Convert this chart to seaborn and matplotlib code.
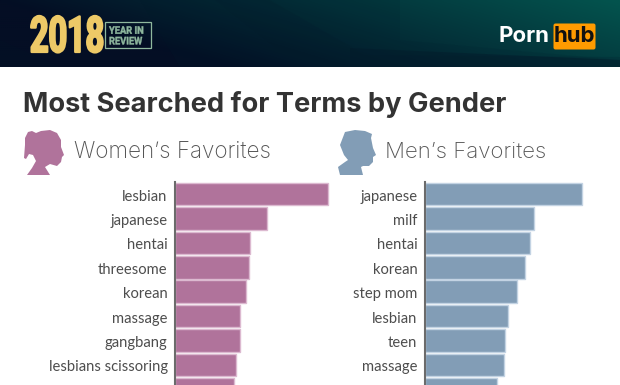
import numpy as np
import pandas as pd
import seaborn as sns
import matplotlib.pyplot as plt
from matplotlib.patches import Polygon, Rectangle, FancyBboxPatch
from matplotlib.patheffects import AbstractPathEffect
from matplotlib.transforms import Affine2D, ScaledTranslation

# terms, the ninth labels are cut off by the image edge
women_terms = ['lesbian', 'japanese', 'hentai', 'threesome', 'korean',
               'massage', 'gangbang', 'lesbians scissoring', ' ']
women_values = [100, 60.2, 48.7, 48.3, 46.3, 42.4, 42.2, 39.8, 38.4]
men_terms = ['japanese', 'milf', 'hentai', 'korean', 'step mom',
             'lesbian', 'teen', 'massage', ' ']
men_values = [100, 69.6, 67.2, 63.6, 58.5, 53.2, 51.2, 50.6, 45.9]

W, H = 620, 385
PINK = '#b0739b'
BLUE = '#829db6'
SAGE = '#8fb89e'


# stretches text around a pixel anchor, no condensed font is installed
class Stretch(AbstractPathEffect):
    def __init__(self, x0, y0, sx, sy, fat=0):
        super().__init__()
        self.x0 = x0
        self.y0 = H - y0
        self.sx = sx
        self.sy = sy
        self.fat = fat

    def draw_path(self, renderer, gc, tpath, affine, rgbFace=None):
        stretch = (Affine2D().translate(-self.x0, -self.y0).scale(self.sx, self.sy)
                   .translate(self.x0, self.y0))
        gc0 = renderer.new_gc()
        gc0.copy_properties(gc)
        if self.fat:
            gc0.set_linewidth(self.fat)
            gc0.set_foreground(rgbFace)
        renderer.draw_path(gc0, tpath, affine + stretch, rgbFace)
        gc0.restore()


sns.set_theme(style='white')
plt.rcParams['font.family'] = ['Lato', 'DejaVu Sans']

fig = plt.figure(figsize=(W / 100, H / 100), dpi=100, facecolor='white')

# overlay in pixel coordinates for the header and headings
bg = fig.add_axes([0, 0, 1, 1])
bg.set_xlim(0, W)
bg.set_ylim(H, 0)
bg.axis('off')

# header background: dark navy on the left to teal on the top right
gx, gy = np.meshgrid(np.linspace(0, 1, 310), np.linspace(0, 1, 34))
t = np.clip(gx * 1.0 - 0.35 * gy, 0, 1)[..., None]
left_col = np.array([4, 14, 36]) / 255
right_col = np.array([3, 84, 78]) / 255
bg.imshow(left_col + (right_col - left_col) * t, extent=(0, W, 67, 0),
          aspect='auto', interpolation='bilinear', zorder=0)
bg.set_xlim(0, W)
bg.set_ylim(H, 0)
for pts, a in [([(140, 0), (270, 0), (365, 55), (620, 57), (620, 67), (180, 67)], 0.18),
               ([(215, 0), (400, 0), (400, 40), (620, 60), (620, 67), (300, 67)], 0.12),
               ([(350, 48), (620, 60), (620, 67), (350, 67)], 0.45),
               ([(0, 40), (0, 67), (60, 67)], 0.10)]:
    bg.add_patch(Polygon(pts, closed=True, fc='#021a2a', ec='none', alpha=a, zorder=1))

# header logos
bg.text(30, 52, '2018', color='#edc967', fontsize=24, fontweight='bold', family='Roboto',
        va='baseline', ha='left', zorder=3, path_effects=[Stretch(30, 52, 0.97, 1.5, fat=1.6)])
bg.add_patch(Rectangle((105, 21.5), 45.5, 26.5, fc='none', ec=SAGE, lw=0.9, zorder=3))
bg.text(109, 33.8, 'YEAR IN', color=SAGE, fontsize=7.6, fontweight='bold', family='Roboto',
        va='baseline', ha='left', zorder=3, path_effects=[Stretch(109, 33.8, 0.88, 1, fat=0.3)])
bg.text(109, 44.4, 'REVIEW', color=SAGE, fontsize=7.6, fontweight='bold', family='Roboto',
        va='baseline', ha='left', zorder=3, path_effects=[Stretch(109, 44.4, 0.88, 1, fat=0.3)])
bg.text(499, 35.5, 'Porn', color='white', fontsize=16, fontweight='bold', family='Inter',
        va='center', ha='left', zorder=3)
bg.add_patch(FancyBboxPatch((555, 25), 39, 23, boxstyle='round,pad=1.5,rounding_size=2',
                            fc='#ff9b00', ec='none', zorder=3))
bg.text(574.5, 36, 'hub', color='#111111', fontsize=16, fontweight='bold', family='Inter',
        va='center', ha='center', zorder=4)

# headings
bg.text(23, 112, 'Most Searched for Terms by Gender', color='#333333', fontsize=19.6,
        fontweight='bold', family='Inter', va='baseline', ha='left')
bg.text(74, 158, 'Women\u2019s Favorites', color='#555555', fontsize=16.2,
        family='Inter', fontweight='light', va='baseline', ha='left')
bg.text(385, 158, 'Men\u2019s Favorites', color='#555555', fontsize=16,
        family='Inter', fontweight='light', va='baseline', ha='left')

# silhouettes
woman = [(24, 158), (25, 145), (25, 138), (28, 132), (32, 131), (36, 133), (41, 131),
         (50, 130), (57, 133), (61, 140), (61, 147), (64, 155), (62, 157), (61, 162),
         (57, 166), (50, 164), (45, 167), (50, 175), (27, 175), (32, 168), (36, 161),
         (33, 155), (29, 154), (26, 159)]
man = [(340, 145), (345, 132), (355, 130), (365, 131), (372, 134), (371, 138), (373, 148),
       (376, 155), (373, 157), (373, 162), (369, 166), (363, 166), (361, 167), (363, 175),
       (340, 175), (338, 167), (345, 162), (348, 160), (344, 155)]
bg.add_patch(Polygon(woman, closed=True, fc=PINK, ec='none'))
bg.add_patch(Polygon(man, closed=True, fc=BLUE, ec='none'))


def draw_bars(left, width, terms, values, color, edge):
    top = 182
    ax = fig.add_axes([left / W, 0, width / W, (H - top) / H], facecolor='none')
    df = pd.DataFrame({'term': terms, 'value': values})
    sns.barplot(data=df, y='term', x='value', color=color, saturation=1, width=0.92,
                edgecolor=edge, linewidth=1, ax=ax)
    ax.set_xlim(0, 105)
    ax.set_ylim(7.83, -0.5)
    ax.set_xlabel('')
    ax.set_ylabel('')
    ax.set_xticks([])
    ax.tick_params(axis='y', length=0, pad=5.5, labelsize=10.6, labelcolor='#4d4d4d')
    down = ScaledTranslation(0, -1 / 100, fig.dpi_scale_trans)
    for label in ax.get_yticklabels():
        label.set_transform(label.get_transform() + down)
    sns.despine(ax=ax, bottom=True)
    ax.spines['left'].set_color('#6b6b6b')
    ax.spines['left'].set_linewidth(1.5)
    return ax


draw_bars(175.3, 160.3, women_terms, women_values, PINK, '#dcb9d0')
draw_bars(425, 164.5, men_terms, men_values, BLUE, '#c3d3e3')

plt.savefig('out.png', dpi=100)
